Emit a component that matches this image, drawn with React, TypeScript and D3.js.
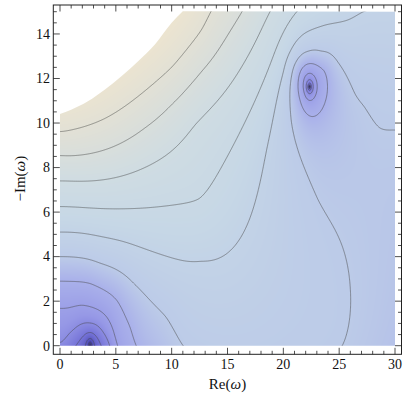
import React, { useMemo } from "react";
import * as d3 from "d3";

const width = 407;
const height = 393;

// axis extents and ticks
const reExtent = [0, 30];
const imExtent = [0, 15];
const reTicks = [0, 5, 10, 15, 20, 25, 30];
const imTicks = [0, 2, 4, 6, 8, 10, 12, 14];

// dark centres of the two minima (mirrored at -Re)
const zeros = [
  [2.7, 0.03],
  [22.35, 11.63],
];

// edge of the white, unplotted region in the upper left
const cutEdge = [
  [0, 10.41], [1, 10.6], [2.5, 10.98], [4, 11.5], [5.5, 12.1],
  [7, 12.78], [8.5, 13.53], [10, 14.5], [11, 15.02],
];

// points, by contour index
const tracedContours: [number, number[][]][] = [
  [-2, [[1.34, 0], [2.6, 0.58], [3.73, 0]]],
  [-1, [[0, 0.05], [1.2, 0.7], [2.7, 1.0], [3.9, 0.56], [4.5, 0]]],
  [0, [[0, 1.7], [1.94, 1.83], [4.18, 1.3], [4.9, 0.4], [5.1, 0], [21.9, 12.08], [22.8, 12.08], [22.8, 11.18], [22.2, 11.04], [21.9, 11.34]]],
  [1, [[0, 2.9], [2.7, 2.8], [5.1, 2.05], [6.3, 0.85], [6.8, 0], [21.6, 12.39], [23.7, 12.39], [23.7, 10.89], [22.5, 10.29], [21.5, 11.04]]],
  [2, [[0, 4.0], [3.6, 3.7], [6.6, 2.8], [9.5, 1.3], [11, 0],
    [30, 9.7], [28.6, 9.77], [27.2, 10.8], [26.4, 11.3], [24.9, 12.7], [23.4, 13.2], [22.2, 13.2], [20.9, 12.5],
    [20.6, 11.6], [20.7, 10.1], [21.3, 8.8], [23.1, 6.55], [26.0, 2.5], [25.3, 0]]],
  [3, [[0, 5.1], [12.6, 3.8], [17.5, 6.5], [18.5, 8.8], [20.0, 12.24], [20.7, 13.28], [21.9, 14.03], [23.7, 14.4], [25.8, 14.63], [27.1, 15]]],
  [4, [[0, 6.25], [12.5, 6.6], [15.2, 8.7], [21.2, 15]]],
  [5, [[0, 7.4], [12.1, 9.93], [13.0, 10.4], [15.2, 11.7], [18.8, 15]]],
  [6, [[0, 8.55], [7.6, 9.78], [10.0, 10.83], [12.7, 12.33], [15.2, 14.1], [16.3, 15]]],
  [7, [[0, 9.6], [4.0, 10.2], [7.0, 11.2], [10.0, 12.5], [12.7, 14.2], [13.5, 15]]],
];

const contourLevels = d3.range(-6, 8);

// shading, low (blue-violet) to high (beige)
const shadeLevels = [-6, -4, -2, -0.5, 1, 2, 3.5, 5, 6.5, 8];
const shadeColors = ["#2e2a88", "#4844b0", "#7674d8", "#9698e6", "#a9b0ea", "#bccbe8", "#c6d7e6", "#cfdce2", "#dddfd8", "#ece4d0"];

const frame = { left: 53.3, right: 401.5, top: 5, bottom: 354.3 };

const smoothing = 0.3;

function zeroTerm(k: number, x: number, y: number) {
  const [zx, zy] = zeros[k];
  return 0.5 * (Math.log((x - zx) ** 2 + (y - zy) ** 2) + Math.log((x + zx) ** 2 + (y - zy) ** 2));
}

function polyTerms(x: number, y: number) {
  return [1, x, y, zeroTerm(0, x, y), zeroTerm(1, x, y)];
}

function kernel(r2: number) {
  return r2 > 0 ? 0.5 * r2 * Math.log(r2) : 0;
}

function solve(A: number[][], b: number[]) {
  const n = b.length;
  const M = A.map((row, i) => [...row, b[i]]);
  for (let c = 0; c < n; c++) {
    let p = c;
    for (let r = c + 1; r < n; r++) if (Math.abs(M[r][c]) > Math.abs(M[p][c])) p = r;
    [M[c], M[p]] = [M[p], M[c]];
    for (let r = c + 1; r < n; r++) {
      const f = M[r][c] / M[c][c];
      if (f === 0) continue;
      for (let k = c; k <= n; k++) M[r][k] -= f * M[c][k];
    }
  }
  const out = new Array(n).fill(0);
  for (let i = n - 1; i >= 0; i--) {
    let s = M[i][n];
    for (let k = i + 1; k < n; k++) s -= M[i][k] * out[k];
    out[i] = s / M[i][i];
  }
  return out;
}

// thin-plate spline through the traced contour points, on top of the two zero terms
function fitField() {
  const nodes: { x: number; y: number; v: number }[] = [];
  for (const [lvl, ps] of tracedContours) {
    for (const [x, y] of ps) {
      nodes.push({ x, y, v: lvl });
      if (x > 0.01) nodes.push({ x: -x, y, v: lvl });
    }
  }
  const n = nodes.length;
  const m = polyTerms(0, 0).length;
  const A = Array.from({ length: n + m }, () => new Array(n + m).fill(0));
  const b = new Array(n + m).fill(0);
  for (let i = 0; i < n; i++) {
    for (let j = 0; j < n; j++) {
      A[i][j] = kernel((nodes[i].x - nodes[j].x) ** 2 + (nodes[i].y - nodes[j].y) ** 2);
    }
    A[i][i] += smoothing;
    const p = polyTerms(nodes[i].x, nodes[i].y);
    for (let k = 0; k < m; k++) {
      A[i][n + k] = p[k];
      A[n + k][i] = p[k];
    }
    b[i] = nodes[i].v;
  }
  const sol = solve(A, b);
  const lambda = sol.slice(0, n);
  const coef = sol.slice(n);
  return (x: number, y: number) => {
    let s = 0;
    for (let j = 0; j < n; j++) s += lambda[j] * kernel((x - nodes[j].x) ** 2 + (y - nodes[j].y) ** 2);
    const p = polyTerms(x, y);
    for (let k = 0; k < m; k++) s += coef[k] * p[k];
    return s;
  };
}

export default function App() {
  const x = d3.scaleLinear().domain(reExtent).range([60, 395]);
  const y = d3.scaleLinear().domain(imExtent).range([345.7, 11.7]);

  const { image, paths } = useMemo(() => {
    const field = fitField();
    const shade = d3.scaleLinear<string>().domain(shadeLevels).range(shadeColors).clamp(true);

    // smooth shading, one sample per pixel
    const x0 = Math.floor(x(0)), x1 = Math.ceil(x(30));
    const y0 = Math.floor(y(15)), y1 = Math.ceil(y(0));
    const cw = x1 - x0, ch = y1 - y0;
    const canvas = document.createElement("canvas");
    canvas.width = cw;
    canvas.height = ch;
    const ctx = canvas.getContext("2d")!;
    const img = ctx.createImageData(cw, ch);
    for (let j = 0; j < ch; j++) {
      for (let i = 0; i < cw; i++) {
        const c = d3.rgb(shade(field(x.invert(x0 + i + 0.5), y.invert(y0 + j + 0.5))));
        const o = (j * cw + i) * 4;
        img.data[o] = c.r;
        img.data[o + 1] = c.g;
        img.data[o + 2] = c.b;
        img.data[o + 3] = 255;
      }
    }
    ctx.putImageData(img, 0, 0);
    const image = { href: canvas.toDataURL(), x: x0, y: y0, w: cw, h: ch };

    // contour lines; the grid runs past the frame so its border stays clipped away
    const step = 0.06;
    const gx0 = -0.42, gy0 = 15.42;
    const nx = Math.round(30.84 / step) + 1;
    const ny = Math.round(15.84 / step) + 1;
    const values: number[] = new Array(nx * ny);
    for (let j = 0; j < ny; j++)
      for (let i = 0; i < nx; i++) values[j * nx + i] = field(gx0 + i * step, gy0 - j * step);
    const contours = d3.contours().size([nx, ny]).thresholds(contourLevels)(values);
    const path = d3.geoPath(
      d3.geoTransform({
        point(px: number, py: number) {
          this.stream.point(x(gx0 + (px - 0.5) * step), y(gy0 - (py - 0.5) * step));
        },
      })
    );
    const paths = contours.map((c) => path(c) || "");
    return { image, paths };
  }, []);

  const edgePx = cutEdge.map(([a, b]) => [x(a), y(b)] as [number, number]);
  const edgeLine = d3.line().curve(d3.curveMonotoneX)(edgePx) || "";
  const clipD = `${edgeLine}L${x(30)},${y(15)}L${x(30)},${y(0)}L${x(0)},${y(0)}Z`;

  const reMinor = d3.range(0, 31, 1);
  const imMinor = d3.range(0, 15.01, 0.5);
  const tickColor = "#222";

  return (
    <svg width={width} height={height} style={{ display: "block", position: "absolute", left: 0, top: 0 }}>
      <defs>
        <clipPath id="plotArea">
          <path d={clipD} />
        </clipPath>
      </defs>
      <g clipPath="url(#plotArea)">
        <image href={image.href} x={image.x} y={image.y} width={image.w} height={image.h} preserveAspectRatio="none" />
        {paths.map((d, i) => (
          <path key={i} d={d} fill="none" stroke="#4a4a4a" strokeOpacity={0.6} strokeWidth={0.85} />
        ))}
      </g>
      <rect x={frame.left} y={frame.top} width={frame.right - frame.left} height={frame.bottom - frame.top} fill="none" stroke={tickColor} strokeWidth={1} />
      {reMinor.map((v) => {
        const len = v % 5 === 0 ? 6.5 : 3.5;
        return (
          <g key={"xt" + v} stroke={tickColor} strokeWidth={0.8}>
            <line x1={x(v)} x2={x(v)} y1={frame.bottom} y2={frame.bottom - len} />
            <line x1={x(v)} x2={x(v)} y1={frame.top} y2={frame.top + len} />
          </g>
        );
      })}
      {imMinor.map((v) => {
        const len = v % 2 === 0 ? 6.5 : 3.5;
        return (
          <g key={"yt" + v} stroke={tickColor} strokeWidth={0.8}>
            <line x1={frame.left} x2={frame.left + len} y1={y(v)} y2={y(v)} />
            <line x1={frame.right} x2={frame.right - len} y1={y(v)} y2={y(v)} />
          </g>
        );
      })}
      <g fontFamily="'Liberation Serif', 'Times New Roman', serif" fontSize={14} fill="#111">
        {reTicks.map((v) => (
          <text key={"xl" + v} x={x(v)} y={369} textAnchor="middle">
            {v}
          </text>
        ))}
        {imTicks.map((v) => (
          <text key={"yl" + v} x={50} y={y(v) + 4.8} textAnchor="end">
            {v}
          </text>
        ))}
      </g>
      <g fontFamily="'Liberation Serif', 'Times New Roman', serif" fontSize={15} fill="#111">
        <text x={227.5} y={389} textAnchor="middle">
          Re(<tspan fontStyle="italic">ω</tspan>)
        </text>
        <text transform={`translate(25,${y(7.5)}) rotate(-90)`} textAnchor="middle">
          −Im(<tspan fontStyle="italic">ω</tspan>)
        </text>
      </g>
    </svg>
  );
}
